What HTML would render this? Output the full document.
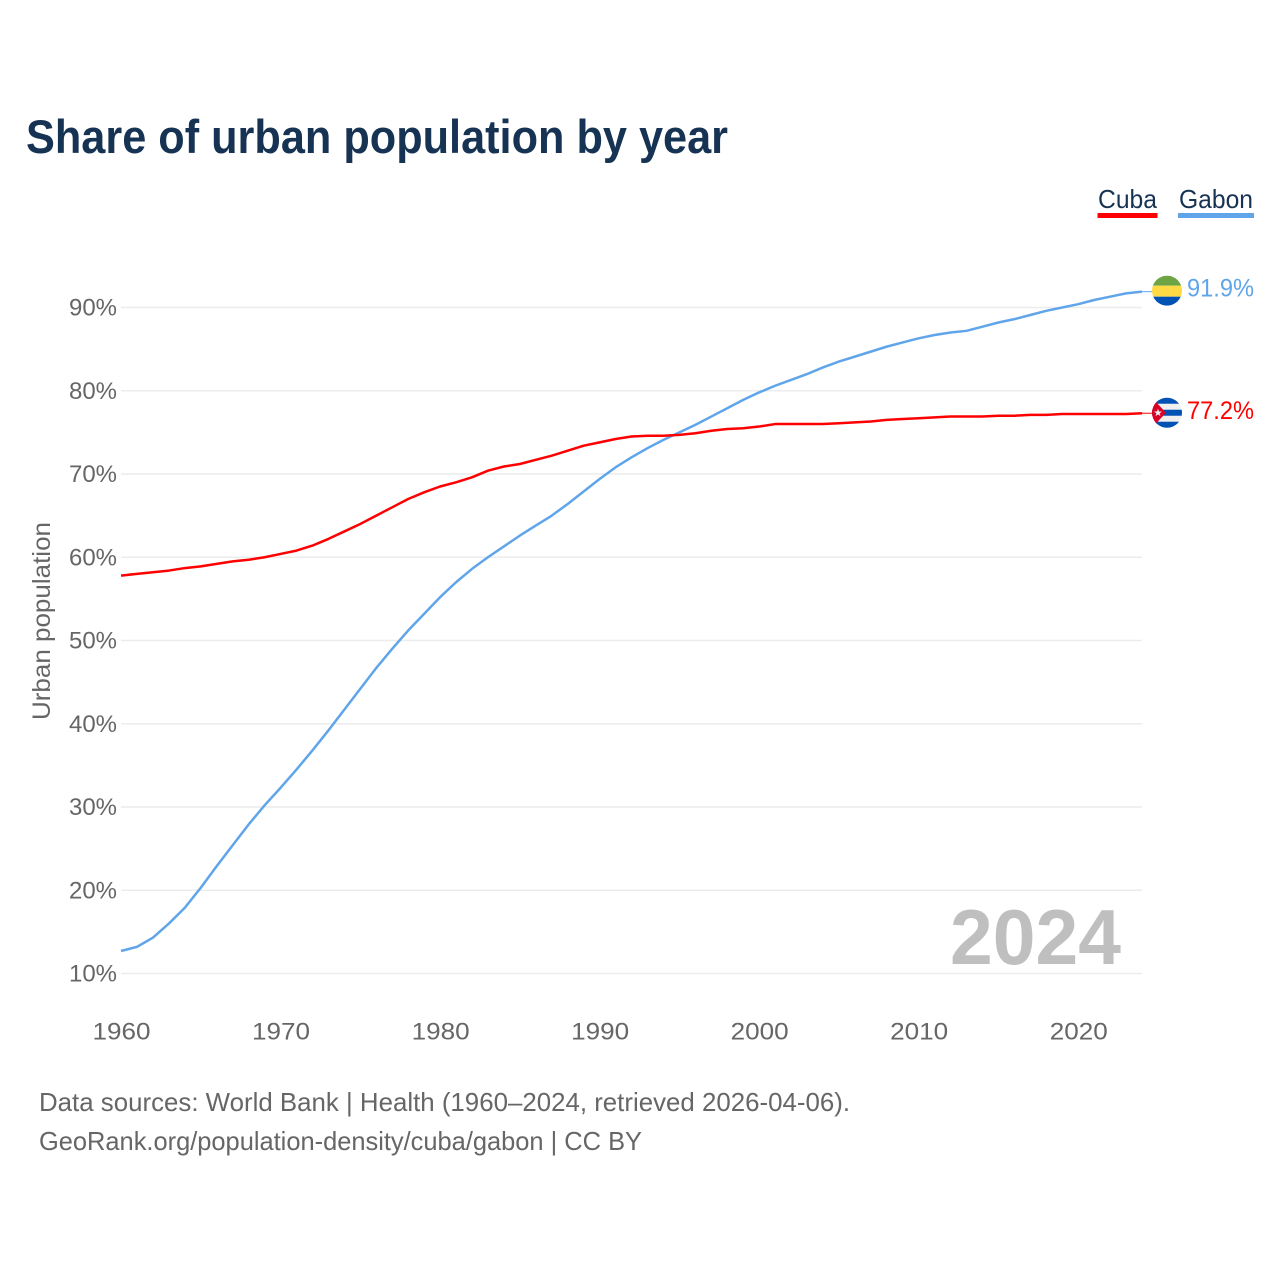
<!DOCTYPE html>
<html lang="en">
<head>
<meta charset="utf-8">
<title>Share of urban population by year</title>
<style>
html,body{margin:0;padding:0;background:#fff;width:1280px;height:1280px;overflow:hidden}
svg{display:block}
text{font-family:"Liberation Sans",sans-serif}
</style>
</head>
<body>
<svg id="chart" width="1280" height="1280" viewBox="0 0 1280 1280" xmlns="http://www.w3.org/2000/svg">
  <text x="26" y="153" font-size="47" font-weight="700" fill="#173354" textLength="702" lengthAdjust="spacingAndGlyphs">Share of urban population by year</text>

  <g>
    <g>
      <text x="1098" y="208" font-size="26" fill="#173354" textLength="59" lengthAdjust="spacingAndGlyphs">Cuba</text>
      <rect x="1097.5" y="213" width="60" height="5" fill="#ff0000"/>
    </g>
    <g>
      <text x="1179" y="208" font-size="26" fill="#173354" textLength="74" lengthAdjust="spacingAndGlyphs">Gabon</text>
      <rect x="1178" y="213" width="76" height="5" fill="#60a5ea"/>
    </g>
  </g>

  <g id="grid"></g>
  <g id="yticks"></g>
  <g id="xticks"></g>

  <text transform="translate(50,720) rotate(-90)" font-size="25" fill="#666666" textLength="198" lengthAdjust="spacingAndGlyphs">Urban population</text>

  <text x="950" y="964" font-size="78" font-weight="700" fill="#bfbfbf" textLength="171" lengthAdjust="spacingAndGlyphs">2024</text>

  <g id="series"></g>

  <defs>
    <clipPath id="flag-clip"><circle cx="0" cy="0" r="15"/></clipPath>
  </defs>

  <g id="flag-gabon" clip-path="url(#flag-clip)">
    <rect x="-15" y="-15" width="30" height="10" fill="#6da544"/>
    <rect x="-15" y="-5" width="30" height="11" fill="#ffda44"/>
    <rect x="-15" y="6" width="30" height="10" fill="#0052b4"/>
  </g>
  <g id="flag-cuba" clip-path="url(#flag-clip)">
    <rect x="-15" y="-16" width="30" height="32" fill="#f0f0f0"/>
    <rect x="-15" y="-16" width="30" height="7" fill="#0052b4"/>
    <rect x="-15" y="-3" width="30" height="6" fill="#0052b4"/>
    <rect x="-15" y="9" width="30" height="7" fill="#0052b4"/>
    <path d="M-15,-15 L-1,0 L-15,15 Z" fill="#d80027"/>
    <path d="M-9,-4 L-8,-1.2 L-5,-1.2 L-7.4,0.6 L-6.5,3.5 L-9,1.7 L-11.5,3.5 L-10.6,0.6 L-13,-1.2 L-10,-1.2 Z" fill="#f0f0f0"/>
  </g>

  <text id="value-gabon" x="1187" font-size="25" fill="#60a5ea" textLength="67" lengthAdjust="spacingAndGlyphs"></text>
  <text id="value-cuba" x="1187" font-size="25" fill="#ff0000" textLength="67" lengthAdjust="spacingAndGlyphs"></text>

  <g>
    <text x="39" y="1111" font-size="26" fill="#666666" textLength="811" lengthAdjust="spacingAndGlyphs">Data sources: World Bank | Health (1960–2024, retrieved 2026-04-06).</text>
    <text x="39" y="1150" font-size="26" fill="#666666" textLength="603" lengthAdjust="spacingAndGlyphs">GeoRank.org/population-density/cuba/gabon | CC BY</text>
  </g>
</svg>
<script>
var startYear = 1960;
var yTickValues = [10, 20, 30, 40, 50, 60, 70, 80, 90];
var xTickValues = [1960, 1970, 1980, 1990, 2000, 2010, 2020];
var cubaValues = [57.8, 58.0, 58.2, 58.4, 58.7, 58.9, 59.2, 59.5, 59.7, 60.0,
  60.4, 60.8, 61.4, 62.2, 63.1, 64.0, 65.0, 66.0, 67.0, 67.8,
  68.5, 69.0, 69.6, 70.4, 70.9, 71.2, 71.7, 72.2, 72.8, 73.4,
  73.8, 74.2, 74.5, 74.6, 74.6, 74.7, 74.9, 75.2, 75.4, 75.5,
  75.7, 76.0, 76.0, 76.0, 76.0, 76.1, 76.2, 76.3, 76.5, 76.6,
  76.7, 76.8, 76.9, 76.9, 76.9, 77.0, 77.0, 77.1, 77.1, 77.2,
  77.2, 77.2, 77.2, 77.2, 77.3];
var gabonValues = [12.7, 13.2, 14.3, 16.0, 17.9, 20.3, 22.9, 25.4, 27.9, 30.2,
  32.3, 34.5, 36.8, 39.2, 41.7, 44.2, 46.7, 49.0, 51.2, 53.2,
  55.2, 57.0, 58.6, 60.0, 61.3, 62.6, 63.8, 65.0, 66.4, 67.9,
  69.4, 70.8, 72.0, 73.1, 74.1, 75.0, 75.9, 76.9, 77.9, 78.9,
  79.8, 80.6, 81.3, 82.0, 82.8, 83.5, 84.1, 84.7, 85.3, 85.8,
  86.3, 86.7, 87.0, 87.2, 87.7, 88.2, 88.6, 89.1, 89.6, 90.0,
  90.4, 90.9, 91.3, 91.7, 91.9];
var cubaLabel = '77.2%';
var gabonLabel = '91.9%';

var NS = 'http://www.w3.org/2000/svg';
function xScale(year) { return 121 + (year - 1960) * (1142 - 121) / 64; }
function yScale(v) { return 973.5 - (v - 10) * 8.325; }
function make(tag, attrs, parent) {
  var el = document.createElementNS(NS, tag);
  for (var k in attrs) { el.setAttribute(k, attrs[k]); }
  parent.appendChild(el);
  return el;
}
var gridG = document.getElementById('grid');
var yG = document.getElementById('yticks');
var xG = document.getElementById('xticks');
var seriesG = document.getElementById('series');

yTickValues.forEach(function (v) {
  var line = make('line', { x1: 121, x2: 1142, y1: yScale(v), y2: yScale(v), stroke: '#ececec', 'stroke-width': 1.4 }, gridG);
  
  
  var t = make('text', { x: 117, y: yScale(v) + 8, 'text-anchor': 'end', 'font-size': 24, fill: '#666666', textLength: 48, lengthAdjust: 'spacingAndGlyphs' }, yG);
  
  
  t.textContent = v + '%';
});

xTickValues.forEach(function (year) {
  var t = make('text', { x: xScale(year) + 0.5, y: 1039.5, 'text-anchor': 'middle', 'font-size': 24, fill: '#666666', textLength: 58, lengthAdjust: 'spacingAndGlyphs' }, xG);
  
  
  t.textContent = year;
});

function pathFor(values) {
  return values.map(function (v, i) {
    return (i ? 'L' : 'M') + xScale(startYear + i).toFixed(2) + ',' + yScale(v).toFixed(2);
  }).join(' ');
}
function connectorFor(values) {
  var lastY = yScale(values[values.length - 1]);
  return 'M' + xScale(startYear + values.length - 1) + ',' + lastY + ' L1153,' + lastY;
}

var gabonLine = make('path', { d: pathFor(gabonValues), fill: 'none', stroke: '#60a5ea', 'stroke-width': 2.5, 'stroke-linejoin': 'round' }, seriesG);


var cubaLine = make('path', { d: pathFor(cubaValues), fill: 'none', stroke: '#ff0000', 'stroke-width': 2.5, 'stroke-linejoin': 'round' }, seriesG);


var gabonLead = make('path', { d: connectorFor(gabonValues), fill: 'none', stroke: '#60a5ea', 'stroke-width': 1 }, seriesG);


var cubaLead = make('path', { d: connectorFor(cubaValues), fill: 'none', stroke: '#ff0000', 'stroke-width': 1 }, seriesG);



var gabonEndY = yScale(gabonValues[gabonValues.length - 1]);
var cubaEndY = yScale(cubaValues[cubaValues.length - 1]);
document.getElementById('flag-gabon').setAttribute('transform', 'translate(1167,' + (gabonEndY - 1) + ')');
document.getElementById('flag-cuba').setAttribute('transform', 'translate(1167,' + (cubaEndY - 0.5) + ')');
var gabonText = document.getElementById('value-gabon');
gabonText.setAttribute('y', gabonEndY + 5);
gabonText.textContent = gabonLabel;
var cubaText = document.getElementById('value-cuba');
cubaText.setAttribute('y', cubaEndY + 6);
cubaText.textContent = cubaLabel;
</script>
</body>
</html>
